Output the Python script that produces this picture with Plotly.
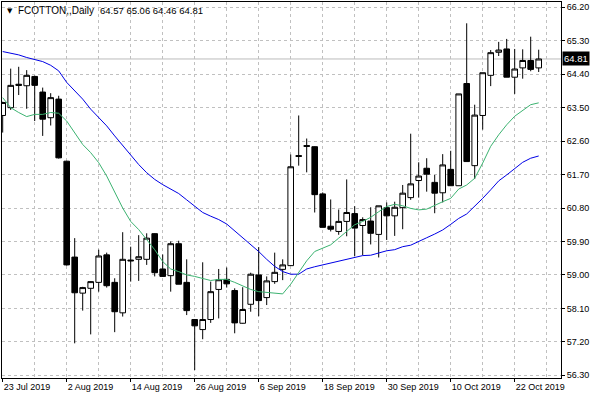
import plotly.graph_objects as go
import pandas as pd

# ---------------- data ----------------
DATES = pd.bdate_range("2019-07-23", "2019-10-25", freq="C",
                       holidays=["2019-09-02"]).strftime("%Y-%m-%d").tolist()

OPEN = [63.29, 63.50, 64.13, 64.09, 64.34, 63.92, 63.23, 63.73, 62.06, 59.48,
        58.51, 58.64, 58.80, 59.54, 58.80, 57.98, 59.40, 59.42, 59.42, 60.11,
        59.16, 58.98, 59.84, 58.80, 57.80, 57.53, 57.80, 58.61, 58.88, 58.58,
        57.70, 58.21, 59.00, 58.39, 58.82, 59.15, 59.25, 62.21, 62.48, 62.45,
        61.18, 60.31, 60.17, 60.44, 60.65, 60.33, 60.45, 60.09, 60.81, 60.59,
        60.81, 61.08, 61.54, 61.87, 61.49, 61.21, 61.84, 61.40, 64.15, 61.94,
        63.29, 64.37, 64.99, 65.08, 64.32, 64.57, 64.77, 64.57]
HIGH = [63.66, 64.55, 64.60, 64.51, 64.36, 64.04, 63.89, 63.82, 62.07, 59.99,
        58.68, 58.83, 59.68, 59.60, 58.91, 60.15, 59.76, 60.07, 60.12, 60.12,
        59.55, 59.90, 59.92, 59.42, 57.80, 59.34, 58.82, 59.16, 59.20, 58.64,
        58.67, 59.06, 59.75, 58.96, 59.60, 59.42, 62.24, 63.29, 62.67, 62.46,
        61.22, 61.03, 60.76, 61.57, 60.85, 60.55, 60.82, 60.86, 60.95, 60.97,
        61.42, 62.80, 62.03, 62.14, 61.69, 62.25, 62.34, 63.87, 65.77, 63.58,
        64.44, 65.05, 65.27, 65.35, 65.08, 65.07, 65.41, 65.06]
LOW = [62.83, 63.44, 63.84, 63.47, 63.14, 62.74, 63.02, 62.13, 59.25, 57.16,
       58.04, 57.40, 58.55, 58.66, 57.46, 57.88, 58.82, 58.84, 59.27, 58.96,
       58.95, 58.55, 58.75, 57.92, 56.44, 57.27, 57.71, 57.83, 58.66, 57.43,
       57.69, 58.01, 57.89, 58.19, 58.76, 58.86, 59.24, 61.94, 61.76, 60.68,
       60.28, 60.17, 60.08, 60.04, 59.51, 59.53, 59.82, 59.47, 59.94, 60.05,
       60.23, 61.02, 61.08, 61.24, 60.66, 60.95, 61.40, 61.40, 62.05, 61.58,
       62.91, 64.08, 64.89, 64.32, 63.87, 64.28, 64.48, 64.46]
CLOSE = [63.64, 64.10, 64.10, 64.37, 64.10, 63.19, 63.77, 62.15, 59.27, 58.52,
         58.66, 58.82, 59.51, 58.71, 58.01, 59.42, 59.38, 59.49, 59.99, 59.06,
         58.96, 59.84, 58.75, 58.04, 57.63, 57.80, 58.55, 58.87, 58.76, 57.71,
         58.07, 59.02, 58.31, 58.84, 59.07, 59.27, 61.91, 62.19, 62.46, 61.16,
         60.28, 60.23, 60.44, 60.68, 60.26, 60.49, 60.12, 60.86, 60.59, 60.82,
         61.20, 61.45, 61.66, 61.71, 61.20, 61.96, 61.40, 63.87, 62.05, 63.30,
         64.44, 64.98, 65.05, 64.32, 64.54, 64.77, 64.53, 64.81]

MA_SLOW = [65.01, 64.97, 64.92, 64.85, 64.80, 64.74, 64.64, 64.49, 64.18, 63.95,
           63.73, 63.46, 63.23, 63.01, 62.74, 62.48, 62.21, 61.97, 61.75, 61.57,
           61.43, 61.31, 61.19, 61.02, 60.85, 60.68, 60.58, 60.49, 60.37, 60.19,
           59.99, 59.81, 59.63, 59.42, 59.23, 59.09, 59.02, 59.02, 59.16, 59.22,
           59.27, 59.33, 59.38, 59.42, 59.48, 59.52, 59.53, 59.59, 59.65, 59.68,
           59.76, 59.80, 59.89, 60.00, 60.10, 60.21, 60.36, 60.52, 60.64, 60.84,
           61.06, 61.29, 61.53, 61.69, 61.87, 62.03, 62.14, 62.20]
MA_FAST = [63.77, 63.50, 63.37, 63.26, 63.32, 63.32, 63.37, 63.35, 63.14, 62.83,
           62.51, 62.29, 62.02, 61.66, 61.21, 60.80, 60.44, 60.22, 59.95, 59.68,
           59.36, 59.16, 59.09, 59.00, 58.96, 58.91, 58.85, 58.88, 58.88, 58.80,
           58.70, 58.61, 58.55, 58.53, 58.52, 58.49, 58.75, 59.05, 59.38, 59.63,
           59.72, 59.81, 59.99, 60.17, 60.35, 60.44, 60.55, 60.70, 60.84, 60.90,
           60.86, 60.79, 60.75, 60.77, 60.88, 60.97, 61.06, 61.31, 61.42, 61.60,
           62.01, 62.46, 62.77, 63.04, 63.27, 63.43, 63.58, 63.63]

X_TICK_DATES = ["2019-07-23", "2019-08-02", "2019-08-14", "2019-08-26", "2019-09-06",
                "2019-09-18", "2019-09-30", "2019-10-10", "2019-10-22"]
X_TICK_LABELS = ["23 Jul 2019", "2 Aug 2019", "14 Aug 2019", "26 Aug 2019", "6 Sep 2019",
                 "18 Sep 2019", "30 Sep 2019", "10 Oct 2019", "22 Oct 2019"]
Y_TICKS = [56.30, 57.20, 58.10, 59.00, 59.90, 60.80, 61.70, 62.60, 63.50, 64.40, 65.30, 66.20]
SYMBOL = "FCOTTON,,Daily"

# ---------------- figure ----------------
xs = list(range(len(DATES)))
tickpos = [DATES.index(d) for d in X_TICK_DATES]

FONT = "Liberation Sans, Arial, sans-serif"
GRID = "#C0C0C0"

fig = go.Figure()

fig.add_trace(go.Scatter(x=xs, y=MA_SLOW, mode="lines",
                         line=dict(color="#0000E6", width=1), hoverinfo="skip"))
fig.add_trace(go.Scatter(x=xs, y=MA_FAST, mode="lines",
                         line=dict(color="#3CB371", width=1), hoverinfo="skip"))
fig.add_trace(go.Candlestick(
    x=xs, open=OPEN, high=HIGH, low=LOW, close=CLOSE,
    increasing=dict(line=dict(color="black", width=1), fillcolor="white"),
    decreasing=dict(line=dict(color="black", width=1), fillcolor="black"),
    whiskerwidth=0,
))

last = CLOSE[-1]
fig.add_shape(type="line", xref="paper", x0=0, x1=1, y0=last, y1=last,
              line=dict(color="#BBBBBB", width=1), layer="below")

fig.add_annotation(xref="paper", yref="y", x=1, y=last, xanchor="left", yanchor="middle",
                   xshift=1, text=f"{last:.2f}", showarrow=False,
                   bgcolor="black", borderpad=1,
                   font=dict(family=FONT, size=9.5, color="white"))

fig.add_annotation(xref="paper", yref="paper", x=0, y=1, xanchor="left", yanchor="top",
                   xshift=3, yshift=-3, text="\u25BC", showarrow=False,
                   font=dict(family="DejaVu Sans", size=7, color="black"))
fig.add_annotation(xref="paper", yref="paper", x=0, y=1, xanchor="left", yanchor="top",
                   xshift=14, yshift=-1, text=SYMBOL, showarrow=False,
                   font=dict(family=FONT, size=10, color="black"))
fig.add_annotation(xref="paper", yref="paper", x=0, y=1, xanchor="left", yanchor="top",
                   xshift=96, yshift=-1,
                   text=f"{OPEN[-1]:.2f} {HIGH[-1]:.2f} {LOW[-1]:.2f} {CLOSE[-1]:.2f}",
                   showarrow=False, font=dict(family=FONT, size=9.5, color="black"))

fig.update_layout(
    width=600, height=400,
    margin=dict(l=2, r=39, t=2, b=22),
    paper_bgcolor="white", plot_bgcolor="white",
    showlegend=False,
    boxgap=0.3, boxgroupgap=0,
    xaxis=dict(
        range=[-0.0875, 69.7875],
        rangeslider=dict(visible=False),
        tickmode="array", tickvals=tickpos, ticktext=X_TICK_LABELS,
        ticks="outside", ticklen=3, tickcolor="black",
        ticklabelposition="outside right",
        tickfont=dict(family=FONT, size=9, color="black"),
        showgrid=True, gridcolor=GRID, griddash="3px,3px", gridwidth=1,
        minor=dict(tick0=0, dtick=4, showgrid=True, gridcolor=GRID,
                   griddash="3px,3px", ticks=""),
        showline=True, linecolor="black", linewidth=1, mirror=True,
        zeroline=False,
    ),
    yaxis=dict(
        side="right",
        range=[56.227, 66.343],
        tickmode="array", tickvals=Y_TICKS, ticktext=[f"{v:.2f}" for v in Y_TICKS],
        ticks="outside", ticklen=3, tickcolor="black",
        tickfont=dict(family=FONT, size=9, color="black"),
        showgrid=True, gridcolor=GRID, griddash="3px,3px", gridwidth=1,
        showline=True, linecolor="black", linewidth=1, mirror=True,
        zeroline=False,
    ),
)

fig.write_html("out.html")
